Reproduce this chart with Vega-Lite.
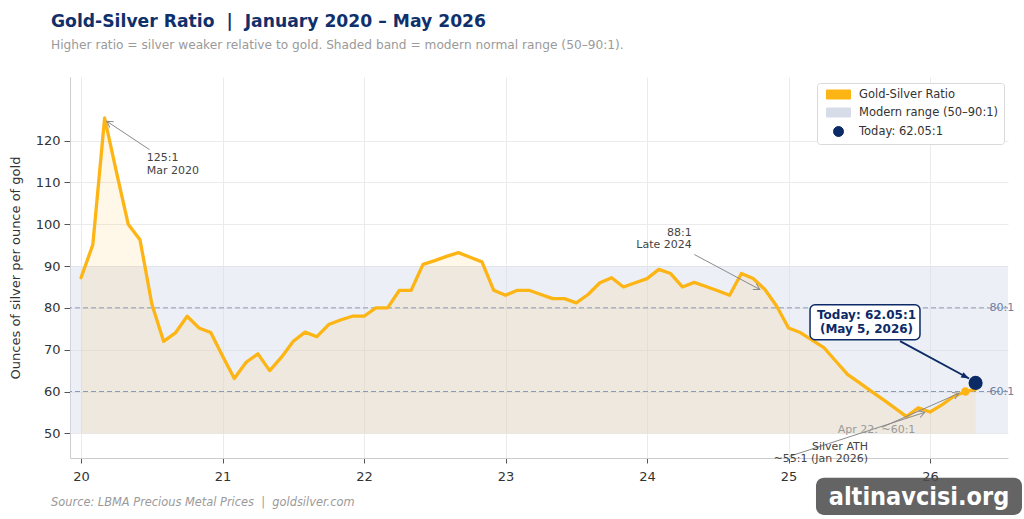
{
  "$schema": "https://vega.github.io/schema/vega-lite/v6.json",
  "width": 938,
  "height": 381,
  "autosize": {"type": "none"},
  "padding": {"left": 70, "top": 77, "right": 16, "bottom": 61},
  "background": "#ffffff",
  "title": {
    "text": "Gold-Silver Ratio\u00a0\u00a0|\u00a0\u00a0January 2020 – May 2026",
    "subtitle": "Higher ratio = silver weaker relative to gold. Shaded band = modern normal range (50–90:1).",
    "anchor": "start",
    "frame": "group",
    "dx": -19,
    "offset": 26,
    "font": "DejaVu Sans",
    "fontSize": 17.2,
    "fontWeight": "bold",
    "color": "#10306b",
    "subtitleFont": "DejaVu Sans",
    "subtitleFontSize": 12.2,
    "subtitleColor": "#9a9a9a",
    "subtitlePadding": 9
  },
  "datasets": {
    "ratio": [
      {"t": 20, "v": 87.2}, {"t": 20.0833, "v": 95.1}, {"t": 20.1667, "v": 125.4}, {"t": 20.25, "v": 112.5},
      {"t": 20.3333, "v": 100}, {"t": 20.4167, "v": 96.3}, {"t": 20.5, "v": 81}, {"t": 20.5833, "v": 72},
      {"t": 20.6667, "v": 74}, {"t": 20.75, "v": 78}, {"t": 20.8333, "v": 75.2}, {"t": 20.9167, "v": 74.1},
      {"t": 21, "v": 68.5}, {"t": 21.0833, "v": 63.1}, {"t": 21.1667, "v": 67}, {"t": 21.25, "v": 69},
      {"t": 21.3333, "v": 65}, {"t": 21.4167, "v": 68.2}, {"t": 21.5, "v": 72}, {"t": 21.5833, "v": 74.2},
      {"t": 21.6667, "v": 73.1}, {"t": 21.75, "v": 76}, {"t": 21.8333, "v": 77.1}, {"t": 21.9167, "v": 78},
      {"t": 22, "v": 78}, {"t": 22.0833, "v": 80}, {"t": 22.1667, "v": 80}, {"t": 22.25, "v": 84.2},
      {"t": 22.3333, "v": 84.2}, {"t": 22.4167, "v": 90.4}, {"t": 22.5, "v": 91.3}, {"t": 22.5833, "v": 92.3},
      {"t": 22.6667, "v": 93.2}, {"t": 22.75, "v": 92.1}, {"t": 22.8333, "v": 91}, {"t": 22.9167, "v": 84.2},
      {"t": 23, "v": 83}, {"t": 23.0833, "v": 84.2}, {"t": 23.1667, "v": 84.2}, {"t": 23.25, "v": 83.2},
      {"t": 23.3333, "v": 82.2}, {"t": 23.4167, "v": 82.2}, {"t": 23.5, "v": 81.2}, {"t": 23.5833, "v": 83.2},
      {"t": 23.6667, "v": 86}, {"t": 23.75, "v": 87.2}, {"t": 23.8333, "v": 85}, {"t": 23.9167, "v": 86},
      {"t": 24, "v": 87}, {"t": 24.0833, "v": 89.2}, {"t": 24.1667, "v": 88.2}, {"t": 24.25, "v": 85},
      {"t": 24.3333, "v": 86.1}, {"t": 24.4167, "v": 85.1}, {"t": 24.5, "v": 84.1}, {"t": 24.5833, "v": 83},
      {"t": 24.6667, "v": 88.2}, {"t": 24.75, "v": 87}, {"t": 24.8333, "v": 84.4}, {"t": 24.9167, "v": 80.4},
      {"t": 25, "v": 75.2}, {"t": 25.0833, "v": 74.1}, {"t": 25.1667, "v": 72.3}, {"t": 25.25, "v": 70.5},
      {"t": 25.3333, "v": 67.3}, {"t": 25.4167, "v": 64.1}, {"t": 25.5, "v": 62.1}, {"t": 25.5833, "v": 60.1},
      {"t": 25.6667, "v": 58.1}, {"t": 25.75, "v": 56.1}, {"t": 25.8333, "v": 54}, {"t": 25.9167, "v": 56.1},
      {"t": 26, "v": 55.1}, {"t": 26.0833, "v": 56.8}, {"t": 26.1667, "v": 58.8}, {"t": 26.25, "v": 60},
      {"t": 26.322, "v": 60.5}
    ],
    "arrows": [
      {"id": "a125", "t": 20.484, "v": 117.83, "t2": 20.182, "v2": 124.61},
      {"id": "a88", "t": 24.334, "v": 92.76, "t2": 24.797, "v2": 84.4},
      {"id": "aATH", "t": 25.007, "v": 44.5, "t2": 25.963, "v2": 55.02},
      {"id": "aApr", "t": 25.659, "v": 51.43, "t2": 26.204, "v2": 59.56},
      {"id": "aToday", "t": 25.788, "v": 72.05, "t2": 26.276, "v2": 63.1}
    ]
  },
  "data": {"name": "ratio"},
  "layer": [
    {
      "data": {"values": [{"lo": 50, "hi": 90, "label": "Modern range (50–90:1)"}]},
      "mark": {"type": "rect", "opacity": 0.47},
      "encoding": {
        "y": {"field": "lo", "type": "quantitative"},
        "y2": {"field": "hi"},
        "color": {"field": "label", "type": "nominal", "title": null}
      }
    },
    {
      "mark": {"type": "area", "color": "#FDB515", "opacity": 0.1},
      "encoding": {
        "x": {"field": "t", "type": "quantitative"},
        "y": {"field": "v", "type": "quantitative"},
        "y2": {"datum": 50}
      }
    },
    {
      "data": {"values": [{"level": 80, "label": "80:1"}, {"level": 60, "label": "60:1"}]},
      "mark": {"type": "rule", "color": "#8d9ab3", "strokeWidth": 1, "strokeDash": [5, 3]},
      "encoding": {
        "y": {"field": "level", "type": "quantitative"}
      }
    },
    {
      "data": {"values": [{"level": 80, "label": "80:1"}, {"level": 60, "label": "60:1"}]},
      "mark": {"type": "text", "align": "left", "baseline": "middle", "fontSize": 11, "color": "#6f80a3", "font": "DejaVu Sans"},
      "encoding": {
        "x": {"datum": 26.42, "type": "quantitative"},
        "y": {"field": "level", "type": "quantitative"},
        "text": {"field": "label"}
      }
    },
    {
      "mark": {"type": "line", "color": "#FDB515", "strokeWidth": 3.3, "strokeJoin": "round", "strokeCap": "round"},
      "encoding": {
        "x": {
          "field": "t", "type": "quantitative",
          "scale": {"domain": [19.922, 26.551], "nice": false, "zero": false},
          "axis": {"title": null, "values": [20, 21, 22, 23, 24, 25, 26], "format": "d", "labelPadding": 7}
        },
        "y": {
          "field": "v", "type": "quantitative",
          "scale": {"domain": [44.1, 135.2], "nice": false, "zero": false},
          "axis": {"title": "Ounces of silver per ounce of gold", "values": [50, 60, 70, 80, 90, 100, 110, 120], "tickSize": 6, "labelPadding": 4, "titlePadding": 13}
        },
        "color": {
          "datum": "Gold-Silver Ratio", "type": "nominal", "title": null,
          "scale": {
            "domain": ["Gold-Silver Ratio", "Modern range (50–90:1)", "Today: 62.05:1"],
            "range": ["#FDB515", "#d6dde9", "#0c2a66"]
          },
          "legend": {
            "title": null,
            "orient": "none",
            "legendX": 747,
            "legendY": 6,
            "fillColor": "#ffffff",
            "strokeColor": "#d9d9d9",
            "cornerRadius": 3,
            "padding": 5,
            "labelFont": "DejaVu Sans",
            "labelFontSize": 11.5,
            "labelColor": "#333333",
            "labelOffset": 14,
            "rowPadding": 5,
            "symbolSize": 144,
            "symbolOffset": 10,
            "symbolOpacity": 1,
            "encode": {
              "symbols": {
                "update": {
                  "shape": {"signal": "datum.value === 'Today: 62.05:1' ? 'M-0.833,0A0.833,0.833 0 1,0 0.833,0A0.833,0.833 0 1,0 -0.833,0Z' : 'M-2,-0.75H2V0.75H-2Z'"},
                  "fill": {"scale": "color", "field": "value"},
                  "stroke": {"signal": "datum.value === 'Modern range (50–90:1)' ? '#b8c2d5' : 'transparent'"},
                  "strokeWidth": {"value": 1},
                  "opacity": {"value": 1},
                  "fillOpacity": {"value": 1},
                  "size": {"value": 144}
                }
              }
            }
          }
        }
      }
    },
    {
      "data": {"values": [{"t": 26.25, "v": 60}]},
      "mark": {"type": "circle", "color": "#FDB515", "size": 70, "opacity": 1},
      "encoding": {
        "x": {"field": "t", "type": "quantitative"},
        "y": {"field": "v", "type": "quantitative"}
      }
    },
    {
      "data": {"values": [{"t": 26.322, "v": 62.05, "label": "Today: 62.05:1"}]},
      "mark": {"type": "circle", "size": 200, "opacity": 1},
      "encoding": {
        "x": {"field": "t", "type": "quantitative"},
        "y": {"field": "v", "type": "quantitative"},
        "color": {"field": "label", "type": "nominal", "title": null}
      }
    },
    {
      "data": {"name": "arrows"},
      "transform": [{"filter": "datum.id !== 'aToday'"}],
      "mark": {"type": "rule", "color": "#8a8a8a", "strokeWidth": 1},
      "encoding": {
        "x": {"field": "t", "type": "quantitative"},
        "y": {"field": "v", "type": "quantitative"},
        "x2": {"field": "t2"},
        "y2": {"field": "v2"}
      }
    },
    {
      "data": {"name": "arrows"},
      "transform": [{"filter": "datum.id === 'aToday'"}],
      "mark": {"type": "rule", "color": "#0c2a66", "strokeWidth": 1.8},
      "encoding": {
        "x": {"field": "t", "type": "quantitative"},
        "y": {"field": "v", "type": "quantitative"},
        "x2": {"field": "t2"},
        "y2": {"field": "v2"}
      }
    },
    {
      "data": {"name": "arrows"},
      "transform": [{"filter": "datum.id === 'a125'"}],
      "mark": {"type": "point", "shape": "M-0.7,1.2L0,0L0.7,1.2", "filled": false, "stroke": "#8a8a8a", "strokeWidth": 1, "size": 100, "angle": 304, "opacity": 1},
      "encoding": {"x": {"field": "t2", "type": "quantitative"}, "y": {"field": "v2", "type": "quantitative"}}
    },
    {
      "data": {"name": "arrows"},
      "transform": [{"filter": "datum.id === 'a88'"}],
      "mark": {"type": "point", "shape": "M-0.7,1.2L0,0L0.7,1.2", "filled": false, "stroke": "#8a8a8a", "strokeWidth": 1, "size": 100, "angle": 119, "opacity": 1},
      "encoding": {"x": {"field": "t2", "type": "quantitative"}, "y": {"field": "v2", "type": "quantitative"}}
    },
    {
      "data": {"name": "arrows"},
      "transform": [{"filter": "datum.id === 'aATH'"}],
      "mark": {"type": "point", "shape": "M-0.7,1.2L0,0L0.7,1.2", "filled": false, "stroke": "#8a8a8a", "strokeWidth": 1, "size": 100, "angle": 72, "opacity": 1},
      "encoding": {"x": {"field": "t2", "type": "quantitative"}, "y": {"field": "v2", "type": "quantitative"}}
    },
    {
      "data": {"name": "arrows"},
      "transform": [{"filter": "datum.id === 'aApr'"}],
      "mark": {"type": "point", "shape": "M-0.7,1.2L0,0L0.7,1.2", "filled": false, "stroke": "#8a8a8a", "strokeWidth": 1, "size": 100, "angle": 66, "opacity": 1},
      "encoding": {"x": {"field": "t2", "type": "quantitative"}, "y": {"field": "v2", "type": "quantitative"}}
    },
    {
      "data": {"name": "arrows"},
      "transform": [{"filter": "datum.id === 'aToday'"}],
      "mark": {"type": "point", "shape": "M-0.6,1.6L0,0L0.6,1.6Z", "filled": true, "color": "#0c2a66", "size": 100, "angle": 118, "opacity": 1},
      "encoding": {"x": {"field": "t2", "type": "quantitative"}, "y": {"field": "v2", "type": "quantitative"}}
    },
    {
      "data": {"values": [{"t": 25.152, "t2": 25.929, "v": 80.74, "v2": 72.37}]},
      "mark": {"type": "rect", "fill": "#ffffff", "stroke": "#0c2a66", "strokeWidth": 1.5, "cornerRadius": 5},
      "encoding": {
        "x": {"field": "t", "type": "quantitative"},
        "x2": {"field": "t2"},
        "y": {"field": "v", "type": "quantitative"},
        "y2": {"field": "v2"}
      }
    },
    {
      "data": {"values": [{"t": 25.551, "v": 78.35, "label": "Today: 62.05:1\n(May 5, 2026)"}]},
      "mark": {"type": "text", "align": "center", "baseline": "middle", "lineBreak": "\n", "lineHeight": 14, "font": "DejaVu Sans", "fontSize": 12, "fontWeight": "bold", "color": "#0c2a66"},
      "encoding": {
        "x": {"field": "t", "type": "quantitative"},
        "y": {"field": "v", "type": "quantitative"},
        "text": {"field": "label"}
      }
    },
    {
      "data": {"values": [
        {"t": 20.465, "v": 115.8, "label": "125:1\nMar 2020"}
      ]},
      "mark": {"type": "text", "align": "left", "baseline": "middle", "lineBreak": "\n", "lineHeight": 12.6, "font": "DejaVu Sans", "fontSize": 11, "color": "#444444"},
      "encoding": {
        "x": {"field": "t", "type": "quantitative"},
        "y": {"field": "v", "type": "quantitative"},
        "text": {"field": "label"}
      }
    },
    {
      "data": {"values": [
        {"t": 24.316, "v": 97.9, "label": "88:1\nLate 2024"},
        {"t": 25.562, "v": 46.84, "label": "Silver ATH\n~55:1 (Jan 2026)"}
      ]},
      "mark": {"type": "text", "align": "right", "baseline": "middle", "lineBreak": "\n", "lineHeight": 12.4, "font": "DejaVu Sans", "fontSize": 11, "color": "#444444"},
      "encoding": {
        "x": {"field": "t", "type": "quantitative"},
        "y": {"field": "v", "type": "quantitative"},
        "text": {"field": "label"}
      }
    },
    {
      "data": {"values": [{"t": 25.622, "v": 50.84, "label": "Apr 22: ~60:1"}]},
      "mark": {"type": "text", "align": "center", "baseline": "middle", "font": "DejaVu Sans", "fontSize": 11, "color": "#9a9a9a"},
      "encoding": {
        "x": {"field": "t", "type": "quantitative"},
        "y": {"field": "v", "type": "quantitative"},
        "text": {"field": "label"}
      }
    },
    {
      "data": {"values": [{"t": 19.788, "v": 33.4, "label": "Source: LBMA Precious Metal Prices\u00a0\u00a0|\u00a0\u00a0goldsilver.com"}]},
      "mark": {"type": "text", "align": "left", "baseline": "middle", "font": "DejaVu Sans", "fontSize": 11.4, "fontStyle": "italic", "color": "#9a9a9a"},
      "encoding": {
        "x": {"field": "t", "type": "quantitative"},
        "y": {"field": "v", "type": "quantitative"},
        "text": {"field": "label"}
      }
    },
    {
      "data": {"values": [{"t": 25.194, "t2": 26.65, "v": 39.35, "v2": 30.5}]},
      "mark": {"type": "rect", "fill": "#4f4f4f", "opacity": 0.88, "cornerRadius": 8},
      "encoding": {
        "x": {"field": "t", "type": "quantitative"},
        "x2": {"field": "t2"},
        "y": {"field": "v", "type": "quantitative"},
        "y2": {"field": "v2"}
      }
    },
    {
      "data": {"values": [{"t": 25.922, "v": 34.8, "label": "altinavcisi.org"}]},
      "mark": {"type": "text", "align": "center", "baseline": "middle", "font": "DejaVu Sans Condensed", "fontSize": 25, "fontWeight": "bold", "color": "#ffffff"},
      "encoding": {
        "x": {"field": "t", "type": "quantitative"},
        "y": {"field": "v", "type": "quantitative"},
        "text": {"field": "label"}
      }
    }
  ],
  "config": {
    "view": {"stroke": null},
    "font": "DejaVu Sans",
    "axis": {
      "labelFont": "DejaVu Sans",
      "labelFontSize": 13,
      "labelColor": "#333333",
      "titleFont": "DejaVu Sans",
      "titleFontSize": 13,
      "titleFontWeight": "normal",
      "titleColor": "#333333",
      "domainColor": "#cccccc",
      "tickColor": "#555555",
      "tickSize": 5,
      "gridColor": "#ebebeb",
      "grid": true
    }
  }
}
